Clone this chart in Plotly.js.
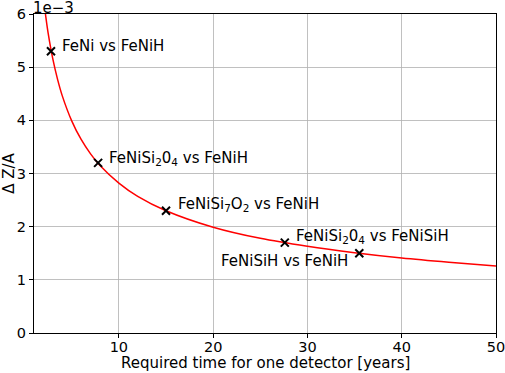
<!DOCTYPE html>
<html>
<head>
<meta charset="utf-8">
<script src="https://cdn.plot.ly/plotly-3.0.1.min.js"></script>
<style>html,body{margin:0;padding:0;background:#fff}#chart{width:505px;height:373px}</style>
</head>
<body>
<div id="chart"></div>
<script>
// Curve values (x in years, y in units of 1e-3)
var curveX = [1, 1.5, 2, 2.25, 2.5, 3, 3.5, 4, 5, 6, 7, 8, 10, 12, 15, 20, 25, 30, 35, 40, 45, 50];
var curveY = [8.92, 7.28, 6.31, 5.95, 5.64, 5.15, 4.77, 4.46, 3.99, 3.64, 3.37, 3.15, 2.82, 2.57, 2.30, 1.99, 1.78, 1.63, 1.51, 1.41, 1.33, 1.26];
// Marked comparisons
var pointX = [2.8, 7.8, 15.0, 27.6, 35.5];
var pointY = [5.30, 3.20, 2.30, 1.70, 1.50];
var pointLabels = [
  'FeNi vs FeNiH',
  'FeNiSi<sub>2</sub>0<sub>4</sub> vs FeNiH',
  'FeNiSi<sub>7</sub>O<sub>2</sub> vs FeNiH',
  'FeNiSi<sub>2</sub>0<sub>4</sub> vs FeNiSiH',
  'FeNiSiH vs FeNiH'
];
var yTicks = [0, 1, 2, 3, 4, 5, 6];
var xTicks = [10, 20, 30, 40, 50];
var scale = 1e-3;

var font = {family: 'DejaVu Sans, sans-serif', size: 15, color: '#000'};
var tickFont = {family: 'DejaVu Sans, sans-serif', size: 14.5, color: '#000'};

var traces = [
  {x: curveX, y: curveY.map(function(v){return v*scale;}), mode: 'lines', type: 'scatter',
   line: {color: 'red', width: 1.5, shape: 'spline'}, hoverinfo: 'skip', cliponaxis: true},
  {x: pointX, y: pointY.map(function(v){return v*scale;}), mode: 'markers', type: 'scatter',
   marker: {symbol: 'x-thin', size: 8, line: {color: '#000', width: 2}}, cliponaxis: false}
];

var offsets = [
  {xa: 'left', xs: 9, ys: 5},
  {xa: 'left', xs: 9, ys: 4},
  {xa: 'left', xs: 10, ys: 6},
  {xa: 'left', xs: 9, ys: 6},
  {xa: 'right', xs: -9, ys: -8}
];
var annotations = pointLabels.map(function(t, i){
  return {x: pointX[i], y: pointY[i]*scale, xref: 'x', yref: 'y', text: t, showarrow: false,
    xanchor: offsets[i].xa, yanchor: 'middle', xshift: offsets[i].xs, yshift: offsets[i].ys, font: font};
});
annotations.push({x: 0, y: 1, xref: 'paper', yref: 'paper', text: '1e\u22123', showarrow: false,
  xanchor: 'left', yanchor: 'bottom', xshift: -3, yshift: -5, font: font});
annotations.push({x: 0.5, y: 0, xref: 'paper', yref: 'paper', text: 'Required time for one detector [years]',
  showarrow: false, xanchor: 'center', yanchor: 'middle', yshift: -30, font: font});

var axisCommon = {
  showline: true, linecolor: '#000', linewidth: 1, mirror: true,
  showgrid: true, gridcolor: '#b0b0b0', gridwidth: 0.8,
  ticks: 'outside', ticklen: 4, tickwidth: 1, tickcolor: '#000',
  zeroline: false, tickfont: tickFont, ticklabeloverflow: 'allow'
};

var layout = {
  width: 505, height: 373,
  margin: {l: 34, r: 9, t: 14, b: 40},
  paper_bgcolor: '#fff', plot_bgcolor: '#fff',
  showlegend: false,
  font: font,
  xaxis: Object.assign({}, axisCommon, {range: [1, 50], tickvals: xTicks, ticktext: xTicks.map(String),
    ticklabelstandoff: -3}),
  yaxis: Object.assign({}, axisCommon, {range: [0, 6*scale], tickvals: yTicks.map(function(v){return v*scale;}),
    ticktext: yTicks.map(String),
    title: {text: '\u0394 Z/A', font: font, standoff: 5}}),
  annotations: annotations
};

Plotly.newPlot('chart', traces, layout, {displayModeBar: false, staticPlot: true});
</script>
</body>
</html>
